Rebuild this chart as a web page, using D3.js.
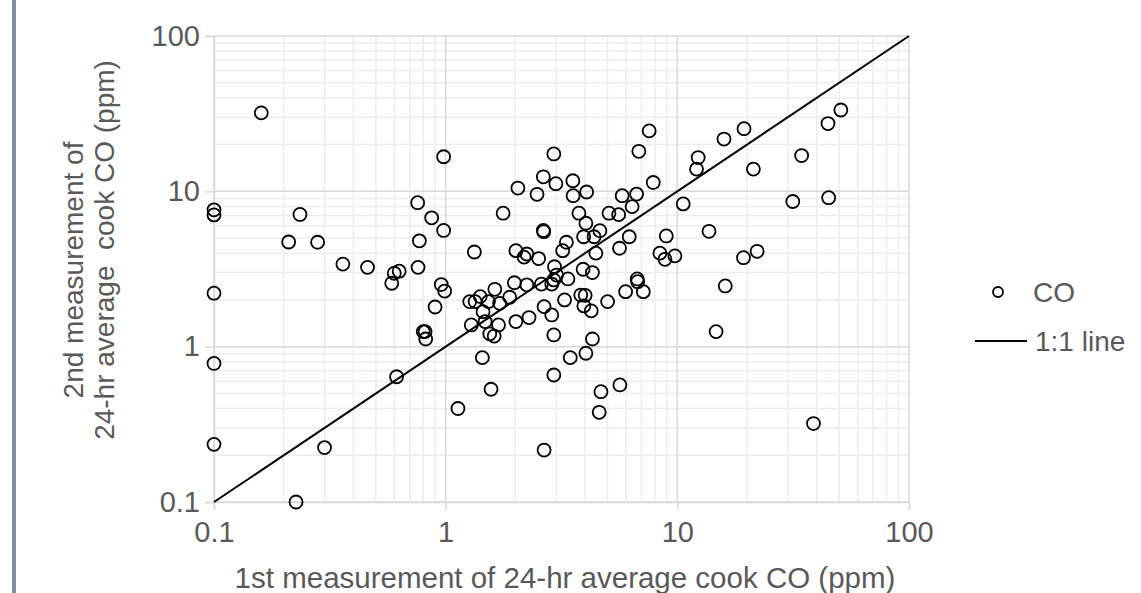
<!DOCTYPE html>
<html>
<head>
<meta charset="utf-8">
<script src="https://cdn.jsdelivr.net/npm/d3@7"></script>
<style>
  html, body { margin: 0; padding: 0; background: #fff; }
  svg text { font-family: "Liberation Sans", Arial, sans-serif; fill: #595959; }
</style>
</head>
<body>
<svg id="chart" width="1141" height="593"></svg>
<script>
// 1st measurement (x) and 2nd measurement (y) of 24-hr average cook CO, ppm
const firstCO = [
  0.16, 0.98, 0.1, 0.1, 0.235, 0.757, 0.87, 0.98, 0.77, 0.21,
  0.28, 0.36, 0.46, 0.6, 0.63, 0.585, 0.76, 0.957, 0.99, 0.9,
  0.8, 0.815, 0.82, 0.1, 0.1, 0.1, 0.614, 0.3, 0.226, 1.13,
  2.93, 7.56, 6.82, 2.64, 2.05, 2.99, 3.54, 2.48, 3.55, 4.06,
  7.87, 5.78, 6.67, 6.38, 10.6, 1.77, 5.07, 5.58, 3.76, 4.03,
  4.63, 3.94, 4.37, 2.64, 2.65, 6.2, 8.96, 1.33, 2.01, 2.24,
  2.18, 2.52, 3.32, 3.2, 4.45, 5.63, 8.41, 8.84, 9.76, 2.95,
  3.92, 4.3, 6.71, 3.01, 2.93, 2.87, 2.59, 3.37, 1.98, 2.24,
  1.63, 1.41, 1.27, 1.34, 1.53, 1.89, 1.71, 1.45, 1.29, 1.48,
  1.69, 1.55, 1.62, 2.01, 2.29, 2.66, 2.87, 3.26, 3.83, 4.0,
  3.95, 4.25, 5.0, 5.98, 6.74, 7.13, 2.93, 4.3, 4.03, 3.45,
  1.44, 2.93, 1.57, 4.68, 5.65, 4.6, 2.66, 50.8, 44.7, 19.4,
  15.9, 12.3, 12.1, 34.4, 21.3, 31.5, 45, 13.7, 19.3, 22.1,
  16.1, 14.7, 38.7
];
const secondCO = [
  32, 16.7, 7.6, 7.05, 7.1, 8.45, 6.75, 5.6, 4.8, 4.72,
  4.7, 3.4, 3.24, 2.97, 3.06, 2.56, 3.24, 2.51, 2.28, 1.8,
  1.25, 1.25, 1.12, 2.21, 0.78, 0.235, 0.64, 0.224, 0.1, 0.4,
  17.4, 24.5, 18.1, 12.4, 10.5, 11.2, 11.7, 9.57, 9.37, 9.9,
  11.4, 9.37, 9.6, 7.97, 8.3, 7.23, 7.23, 7.08, 7.23, 6.23,
  5.58, 5.1, 5.1, 5.6, 5.5, 5.1, 5.16, 4.07, 4.15, 3.95,
  3.77, 3.69, 4.7, 4.15, 4.0, 4.3, 4.0, 3.65, 3.84, 3.27,
  3.15, 3.0, 2.73, 2.89, 2.69, 2.53, 2.53, 2.73, 2.58, 2.5,
  2.34, 2.1, 1.95, 1.95, 1.95, 2.08, 1.9, 1.68, 1.38, 1.45,
  1.38, 1.21, 1.17, 1.45, 1.54, 1.81, 1.6, 2.0, 2.15, 2.14,
  1.83, 1.7, 1.95, 2.26, 2.62, 2.26, 1.19, 1.12, 0.907, 0.85,
  0.85, 0.657, 0.532, 0.513, 0.567, 0.378, 0.216, 33.4, 27.3, 25.3,
  21.7, 16.5, 13.9, 17.0, 13.9, 8.6, 9.1, 5.53, 3.74, 4.11,
  2.46, 1.25, 0.32
];
const majorTicks = [0.1, 1, 10, 100];
const tickLabels = ['0.1', '1', '10', '100'];
const oneToOne = [0.1, 100];
const xTitle = '1st measurement of 24-hr average cook CO (ppm)';
const yTitleLines = ['2nd measurement of', '24-hr average\u00a0 cook CO (ppm)'];
const legendLabels = ['CO', '1:1 line'];

const svg = d3.select('#chart');

// Plot area
const plotLeft = 214, plotRight = 909, plotTop = 36, plotBottom = 502;

const x = d3.scaleLog().domain([0.1, 100]).range([plotLeft, plotRight]);
const y = d3.scaleLog().domain([0.1, 100]).range([plotBottom, plotTop]);

// Decorative bar on the left edge
svg.append('rect')
  .attr('x', 12).attr('y', 0)
  .attr('width', 4).attr('height', 593)
  .attr('fill', '#7f929f');

// Minor grid (2..9 in every decade)
const minorTicks = [];
majorTicks.slice(0, 3).forEach(d => {
  for (let k = 2; k <= 9; k++) minorTicks.push(+(d * k).toPrecision(3));
});

const grid = svg.append('g');
grid.selectAll('.vminor')
  .data(minorTicks)
  .join('line')
  .attr('class', 'vminor')
  .attr('x1', d => x(d)).attr('x2', d => x(d))
  .attr('y1', plotTop).attr('y2', plotBottom)
  .attr('stroke', '#ededed').attr('stroke-width', 1.5);
grid.selectAll('.hminor')
  .data(minorTicks)
  .join('line')
  .attr('class', 'hminor')
  .attr('x1', plotLeft).attr('x2', plotRight)
  .attr('y1', d => y(d)).attr('y2', d => y(d))
  .attr('stroke', '#ededed').attr('stroke-width', 1.5);

// Major grid
grid.selectAll('.vmajor')
  .data(majorTicks)
  .join('line')
  .attr('class', 'vmajor')
  .attr('x1', d => x(d)).attr('x2', d => x(d))
  .attr('y1', plotTop).attr('y2', plotBottom)
  .attr('stroke', '#d9d9d9').attr('stroke-width', 1.5);
grid.selectAll('.hmajor')
  .data(majorTicks)
  .join('line')
  .attr('class', 'hmajor')
  .attr('x1', plotLeft).attr('x2', plotRight)
  .attr('y1', d => y(d)).attr('y2', d => y(d))
  .attr('stroke', '#d9d9d9').attr('stroke-width', 1.5);

// Axes
const fmt = d => tickLabels[majorTicks.indexOf(d)];

const xAxis = svg.append('g')
  .attr('transform', `translate(0,${plotBottom})`)
  .call(d3.axisBottom(x).tickValues(majorTicks).tickFormat(fmt).tickSize(8).tickPadding(11));
const yAxis = svg.append('g')
  .attr('transform', `translate(${plotLeft},0)`)
  .call(d3.axisLeft(y).tickValues(majorTicks).tickFormat(fmt).tickSize(9).tickPadding(5));

[xAxis, yAxis].forEach(g => {
  g.select('.domain').attr('stroke', '#d9d9d9').attr('stroke-width', 1.5);
  g.selectAll('.tick line').attr('stroke', '#d9d9d9').attr('stroke-width', 1.5);
  g.selectAll('.tick text')
    .attr('fill', '#595959')
    .style('font-size', '29px')
    .style('font-family', '"Liberation Sans", Arial, sans-serif');
});

// 1:1 line
svg.append('line')
  .attr('x1', x(oneToOne[0])).attr('y1', y(oneToOne[0]))
  .attr('x2', x(oneToOne[1])).attr('y2', y(oneToOne[1]))
  .attr('stroke', '#000').attr('stroke-width', 2);

// Points
const points = firstCO.map((d, i) => ({ a: d, b: secondCO[i] }));
svg.append('g')
  .selectAll('circle')
  .data(points)
  .join('circle')
  .attr('cx', d => x(d.a))
  .attr('cy', d => y(d.b))
  .attr('r', 6.5)
  .attr('fill', 'none')
  .attr('stroke', '#000')
  .attr('stroke-width', 1.8);

// Axis titles
svg.append('text')
  .attr('x', 565)
  .attr('y', 588)
  .attr('text-anchor', 'middle')
  .style('font-size', '29.5px')
  .text(xTitle);

svg.append('text')
  .attr('transform', 'translate(83,270) rotate(-90)')
  .attr('text-anchor', 'middle')
  .style('font-size', '28px')
  .text(yTitleLines[0]);
svg.append('text')
  .attr('transform', 'translate(114,250) rotate(-90)')
  .attr('text-anchor', 'middle')
  .style('font-size', '28px')
  .text(yTitleLines[1]);

// Legend
const legend = svg.append('g');
legend.append('circle')
  .attr('cx', 998).attr('cy', 292).attr('r', 5)
  .attr('fill', 'none').attr('stroke', '#000').attr('stroke-width', 1.8);
legend.append('text')
  .attr('x', 1033).attr('y', 302)
  .style('font-size', '28px')
  .text(legendLabels[0]);
legend.append('line')
  .attr('x1', 975).attr('x2', 1027)
  .attr('y1', 341).attr('y2', 341)
  .attr('stroke', '#000').attr('stroke-width', 2);
legend.append('text')
  .attr('x', 1035).attr('y', 351)
  .style('font-size', '28px')
  .text(legendLabels[1]);
</script>
</body>
</html>
